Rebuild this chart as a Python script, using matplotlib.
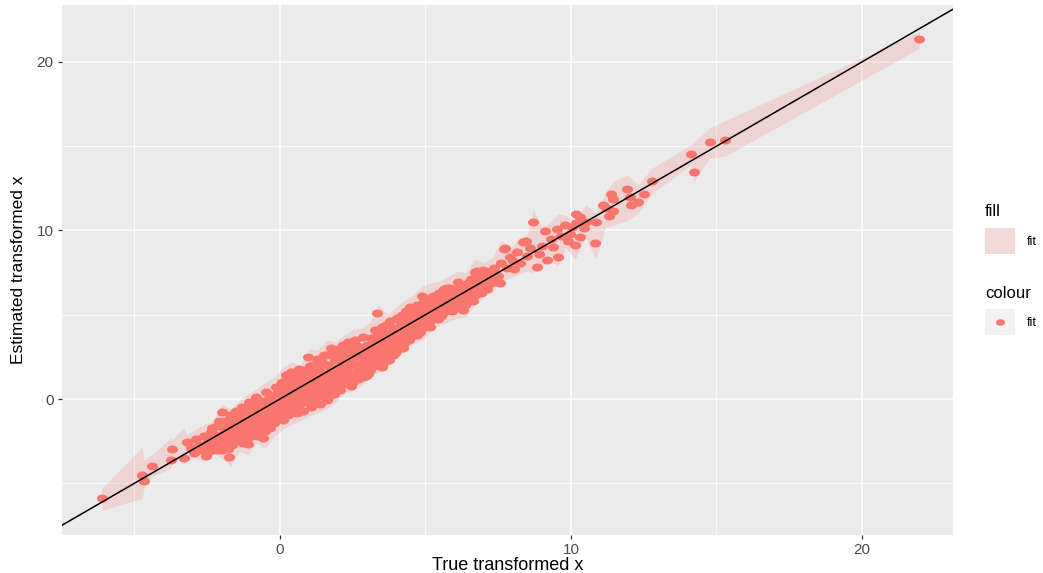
import numpy as np
import matplotlib.pyplot as plt
from matplotlib.path import Path
from matplotlib.transforms import Affine2D
from matplotlib.patches import Rectangle
from matplotlib.lines import Line2D

plt.rcParams['font.family'] = ['Liberation Sans', 'DejaVu Sans']

# point estimates (true vs estimated)
true_x = [
    -6.12, -4.74, -4.67, -4.40, -3.75, -3.71, -3.30, -3.20, -3.05, -2.95,
    -2.90, -2.80, -2.70, -2.62, -2.54, -2.50, -2.45, -2.38, -2.30, -2.25,
    -2.18, -2.12, -2.05, -2.00, -1.98,
    -1.92, -1.90, -1.85, -1.80, -1.75, -1.72, -1.70, -1.65, -1.60, -1.55,
    -1.50, -1.48, -1.42, -1.40, -1.35, -1.30, -1.28, -1.22, -1.20, -1.15,
    -1.10, -1.08, -1.05, -1.00, -0.98, -0.95, -0.90, -0.85, -0.82, -0.80,
    -0.75, -0.72, -0.69, -0.65, -0.62, -0.58, -0.55, -0.52, -0.48, -0.45,
    -0.40, -0.38, -0.35, -0.30, -0.28, -0.22, -0.20, -0.15, -0.12, -0.08,
    -0.05, 0.00, 0.02, 0.05, 0.08, 0.10,
    0.12, 0.15, 0.18, 0.22, 0.25, 0.28, 0.32, 0.35, 0.38, 0.42,
    0.45, 0.48, 0.52, 0.55, 0.58, 0.62, 0.65, 0.68, 0.72, 0.75,
    0.78, 0.82, 0.85, 0.88, 0.92, 0.95, 0.97, 1.00, 1.02, 1.05,
    1.08, 1.12, 1.15, 1.18, 1.22, 1.25, 1.28, 1.32, 1.35, 1.38,
    1.42, 1.45, 1.48, 1.52, 1.55, 1.60, 1.62, 1.65, 1.68, 1.72,
    1.75, 1.78, 1.82, 1.85, 1.88, 1.92, 1.95, 1.98,
    2.02, 2.05, 2.08, 2.12, 2.15, 2.18, 2.22, 2.25, 2.28, 2.32,
    2.35, 2.38, 2.42, 2.45, 2.48, 2.52, 2.55, 2.58, 2.62, 2.65,
    2.68, 2.72, 2.75, 2.78, 2.82, 2.85, 2.88, 2.92, 2.95, 2.98,
    3.02, 3.05, 3.08, 3.12, 3.15, 3.18, 3.22, 3.25, 3.28, 3.32,
    3.35, 3.38, 3.42, 3.45, 3.48, 3.52, 3.55, 3.58, 3.62, 3.65,
    3.68, 3.72, 3.75, 3.78, 3.82, 3.85, 3.88, 3.92, 3.95, 3.98,
    4.02, 4.05, 4.08, 4.12, 4.15, 4.18, 4.22, 4.25, 4.28, 4.32,
    4.35, 4.38, 4.42, 4.45, 4.48, 4.52, 4.55, 4.58, 4.62, 4.65,
    4.70, 4.75, 4.80, 4.85, 4.89, 4.92, 4.95, 5.00, 5.05, 5.10,
    5.15, 5.20, 5.25, 5.30, 5.35, 5.40, 5.45, 5.50, 5.55, 5.60,
    5.65, 5.70, 5.75, 5.80, 5.85, 5.90, 5.95,
    6.00, 6.05, 6.10, 6.13, 6.18, 6.22, 6.30, 6.35, 6.40, 6.45,
    6.50, 6.55, 6.60, 6.65, 6.70, 6.76, 6.80, 6.85, 6.90, 6.99,
    7.05, 7.10, 7.18, 7.25, 7.30, 7.40, 7.50, 7.55,
    7.60, 7.70, 7.73, 7.80, 7.90, 8.00, 8.05, 8.15, 8.25, 8.36,
    8.45, 8.50, 8.60, 8.71, 8.82, 8.90, 9.00, 9.10, 9.19, 9.30,
    9.40, 9.51, 9.54, 9.65, 9.80, 9.90, 9.97,
    10.05, 10.15, 10.17, 10.19, 10.30, 10.32, 10.46, 10.53, 10.84, 10.87,
    11.10, 11.19, 11.30, 11.39, 11.43, 11.43, 11.94, 12.04, 12.06, 12.32,
    12.51, 12.79,
    14.13, 14.22, 14.77, 15.28, 21.97,
]
est_x = [
    -5.88, -4.50, -4.87, -4.00, -3.60, -2.97, -3.50, -2.55, -2.90, -3.20,
    -2.40, -2.75, -3.05, -2.20, -3.38, -2.60, -2.95, -1.95, -2.35, -2.80,
    -1.60, -2.15, -2.55, -0.80, -3.00,
    -1.30, -2.00, -2.40, -1.65, -3.44, -0.95, -2.15, -2.75, -1.40, -1.85,
    -0.70, -2.40, -1.15, -1.60, -2.05, -0.45, -2.60, -0.95, -1.35, -1.80,
    -2.67, -0.20, -2.25, -0.70, -1.10, -1.55, -2.00, -0.35, 0.10, -0.90,
    -1.30, -1.75, -1.96, -0.10, -0.60, -2.30, -1.10, -1.50, 0.40, -0.30,
    -0.80, -1.25, -1.75, 0.15, -0.50, -1.00, -1.45, 0.70, -0.15, -0.65,
    -1.20, 0.35, -0.30, -0.85, 1.00, 0.05,
    -1.25, 0.60, -0.50, 1.40, 0.20, -0.95, 0.85, -0.20, 1.60, 0.45,
    -0.70, 1.10, 0.00, -0.45, 0.75, 1.45, 0.25, -0.30, 1.05, 0.50,
    -0.70, 1.75, 0.80, 0.10, 1.30, -0.20, 2.52, 0.55, 1.00, -0.50,
    1.55, 0.30, 2.00, 0.85, 0.05, 1.30, 2.40, 0.60, 1.75, -0.30,
    1.05, 2.20, 0.35, 1.50, 0.85, -0.06, 2.60, 1.20, 0.55, 1.90,
    3.00, 0.95, 1.55, 0.30, 2.30, 1.25, 0.70, 2.75,
    1.80, 0.55, 2.45, 1.40, 3.20, 0.90, 2.00, 1.15, 2.70, 1.65,
    3.40, 0.95, 2.25, 1.45, 2.90, 1.00, 2.00, 3.50, 1.60, 2.55,
    1.20, 3.10, 2.10, 1.55, 2.80, 3.65, 1.85, 2.40, 1.35, 3.20,
    2.05, 2.70, 1.70, 3.60, 2.35, 3.00, 1.95, 4.10, 2.60, 5.08,
    3.30, 2.15, 3.85, 2.80, 2.30, 4.25, 2.12, 3.45, 2.70, 4.40,
    3.10, 2.45, 3.80, 4.60, 2.90, 3.40, 2.60, 4.20, 3.05, 3.70,
    4.80, 2.95, 3.55, 4.35, 3.20, 5.00, 3.85, 4.55, 3.35, 5.20,
    4.05, 3.60, 4.80, 3.90, 5.45, 4.30, 3.75, 5.00, 4.55, 4.10,
    5.60, 4.40, 4.00, 5.20, 6.14, 4.70, 5.50, 4.25, 5.05, 5.80,
    4.60, 5.35, 6.10, 4.90, 5.60, 5.10, 6.30, 5.40, 4.95, 5.85,
    6.50, 5.30, 6.00, 5.55, 6.60, 5.20, 6.20,
    5.75, 6.55, 5.45, 6.97, 6.10, 5.65, 5.28, 6.40, 6.85, 5.90,
    6.60, 7.10, 6.20, 5.80, 7.56, 7.60, 6.50, 6.95, 6.30, 7.66,
    7.00, 6.55, 7.35, 6.90, 7.20, 7.50, 7.27, 6.90,
    8.09, 8.90, 8.94, 7.80, 8.40, 8.20, 7.70, 8.70, 8.05, 9.33,
    9.40, 8.50, 8.95, 10.49, 7.82, 8.60, 9.10, 9.94, 8.25, 9.50,
    9.00, 10.09, 8.45, 9.70, 10.30, 9.40, 9.80,
    10.20, 9.14, 10.44, 11.00, 10.80, 9.60, 10.16, 10.50, 9.24, 10.50,
    11.50, 11.32, 10.86, 12.15, 11.89, 11.17, 12.45, 12.00, 11.50, 11.70,
    12.19, 12.91,
    14.53, 13.48, 15.27, 15.37, 21.36,
]

# further points packed inside the dense cloud
true_x_dense = [
    -2.40, -2.35, -2.22, -2.15, -2.08, -1.95, -1.88, -1.78, -1.68, -1.62,
    -1.52, -1.45, -1.38, -1.32, -1.25, -1.18, -1.12, -1.02, -0.96, -0.88,
    -0.78, -0.70, -0.60, -0.56, -0.50, -0.42, -0.36, -0.26, -0.18, -0.10,
    -0.02, 0.04, 0.14, 0.20, 0.26, 0.34, 0.40, 0.46, 0.54, 0.60,
    0.66, 0.74, 0.80, 0.86, 0.94, 1.04, 1.10, 1.16, 1.24, 1.30,
    1.36, 1.44, 1.50, 1.58, 1.64, 1.70, 1.76, 1.84, 1.90, 1.96,
    2.04, 2.10, 2.16, 2.24, 2.30, 2.36, 2.44, 2.50, 2.56, 2.64,
    2.70, 2.76, 2.84, 2.90, 2.96, 3.04, 3.10, 3.16, 3.24, 3.30,
    3.36, 3.44, 3.50, 3.56, 3.64, 3.70, 3.76, 3.84, 3.90, 3.96,
    4.04, 4.10, 4.16, 4.24, 4.30, 4.36, 4.44, 4.50, 4.56, 4.64,
    4.72, 4.78, 4.86, 4.94, 5.02, 5.08, 5.14, 5.22, 5.28, 5.36,
    5.42, 5.48, 5.56, 5.62, 5.68, 5.74, 5.82, 5.88, 5.96, 6.04,
    6.12, 6.20, 6.28, 6.36, 6.44, 6.52, 6.60, 6.68, 6.74, 6.84,
    6.94, 7.02, 7.14, 7.22, 7.36, 7.46,
]
est_x_dense = [
    -3.10, -1.70, -2.45, -3.05, -1.30, -2.65, -1.85, -2.95, -1.05, -2.05,
    -2.50, -1.35, -0.75, -2.25, -1.70, -2.35, -1.10, -1.95, -0.45, -1.35,
    -2.20, -0.55, -1.45, -0.20, -1.90, -1.05, 0.05, -1.30, -0.45, 0.35,
    -0.95, 0.90, -0.10, 0.95, -0.65, 0.35, 1.20, -0.25, 0.65, -0.85,
    1.80, -0.10, 0.45, 1.35, 0.30, 1.95, -0.15, 1.10, 0.55, 1.85,
    0.20, 1.55, 2.60, 0.55, 2.00, 0.20, 1.35, 2.65, 0.95, 1.85,
    2.95, 1.05, 2.35, 1.60, 3.00, 2.05, 0.75, 2.45, 1.35, 3.15,
    1.85, 2.55, 1.30, 3.00, 2.25, 1.50, 3.20, 2.00, 2.65, 3.70,
    2.45, 3.15, 1.90, 3.90, 2.95, 3.50, 2.30, 4.00, 3.30, 2.75,
    4.10, 3.40, 4.65, 3.05, 4.20, 4.85, 3.50, 4.70, 4.05, 5.30,
    3.80, 4.90, 4.35, 5.80, 4.70, 5.45, 4.30, 5.75, 5.10, 6.05,
    4.75, 5.65, 6.25, 5.10, 5.95, 6.60, 5.75, 6.30, 5.45, 6.25,
    5.80, 6.70, 6.00, 5.55, 6.35, 7.00, 6.60, 6.10, 7.10, 6.70,
    7.30, 6.70, 7.55, 7.10, 7.80, 7.00,
]

# interval band (lower / upper) along true x
band_x = [
    -6.12, -4.74, -4.67, -4.40, -3.75, -3.71, -3.30, -3.20,
    -2.90, -2.60, -2.30, -2.00, -1.70, -1.40, -1.10, -0.80, -0.50, -0.20,
    0.10, 0.40, 0.70, 1.00, 1.30, 1.60, 1.90, 2.20, 2.50, 2.80,
    3.10, 3.40, 3.70, 4.00, 4.30, 4.60, 4.90, 5.20, 5.50, 5.80,
    6.10, 6.40, 6.70, 7.00, 7.30, 7.60, 7.90, 8.20, 8.50, 8.70,
    9.00, 9.30, 9.55, 9.80, 10.15, 10.50, 10.85, 11.20, 11.45, 11.94,
    12.30, 12.79, 14.13, 14.22, 14.77, 15.28, 21.97,
]
band_lo = [
    -6.60, -5.90, -5.30, -4.60, -4.10, -3.40, -3.90, -3.00,
    -3.50, -3.70, -3.20, -3.50, -4.00, -3.10, -3.30, -2.60, -2.90, -2.20,
    -1.80, -1.50, -1.30, -1.00, -0.80, -0.60, -0.20, 0.30, 0.50, 0.80,
    1.30, 1.60, 1.90, 2.40, 2.90, 3.30, 3.50, 4.10, 4.40, 4.60,
    4.80, 4.90, 5.60, 6.10, 6.30, 7.00, 7.20, 7.40, 7.60, 7.50,
    7.90, 8.20, 7.90, 9.00, 8.30, 9.60, 8.30, 10.20, 10.30, 10.60,
    11.00, 12.20, 13.90, 12.90, 14.30, 14.40, 20.80,
]
band_hi = [
    -5.30, -2.85, -3.60, -3.30, -2.30, -2.40, -1.70, -2.10,
    -1.80, -1.50, -1.30, -0.30, -0.60, -0.10, 0.30, 0.60, 1.00, 1.30,
    1.90, 2.20, 2.00, 3.00, 2.90, 3.50, 3.40, 3.80, 4.10, 4.20,
    4.60, 5.60, 5.00, 5.50, 5.90, 6.20, 6.70, 6.90, 7.00, 7.30,
    7.60, 7.50, 8.30, 8.10, 8.40, 9.40, 8.90, 9.50, 9.80, 11.30,
    10.20, 10.50, 11.00, 10.90, 10.60, 11.50, 11.10, 12.30, 12.90, 13.30,
    12.70, 13.70, 15.10, 15.20, 16.10, 16.50, 21.80,
]

red = '#F8766D'
ellipse = Path.unit_circle().transformed(Affine2D().scale(1.0, 0.72))
ms = 8.0

fig = plt.figure(figsize=(10.43, 5.73), dpi=100)
ax = fig.add_axes([62 / 1043, 38 / 573, 891 / 1043, 530 / 573])
ax.set_facecolor('#EBEBEB')

ax.fill_between(band_x, band_lo, band_hi, color=red, alpha=0.2,
                linewidth=0, zorder=2)
ax.plot(true_x + true_x_dense, est_x + est_x_dense, ls='none',
        marker=ellipse, ms=ms, mfc=red, mec='none', zorder=3)
ax.axline((0, 0), slope=1, color='black', lw=1.1, zorder=4)

ax.set_xlim(-7.49, 23.13)
ax.set_ylim(-8.07, 23.38)
ax.set_xticks([0, 10, 20])
ax.set_yticks([0, 10, 20])
ax.set_xticks([-5, 5, 15], minor=True)
ax.set_yticks([-5, 5, 15], minor=True)
ax.grid(which='major', color='white', lw=1.1, zorder=1)
ax.grid(which='minor', color='white', lw=0.55, zorder=1)
ax.set_axisbelow(True)
for s in ax.spines.values():
    s.set_visible(False)
ax.tick_params(which='major', length=3, width=0.9, color='#333333',
               labelcolor='#4D4D4D', labelsize=11, pad=3)
ax.tick_params(which='minor', length=0)

ax.set_xlabel('True transformed x', fontsize=13, va='center')
ax.xaxis.set_label_coords(0.5, -0.058)
ax.set_ylabel('Estimated transformed x', fontsize=12.5, va='center')
ax.yaxis.set_label_coords(-0.049, 0.5)

# legends (fill, colour) drawn by hand at the right
W, H = 1043, 573


def fx(px):
    return px / W


def fy(py):
    return 1 - py / H


fig.text(fx(985), fy(212), 'fill', fontsize=12, va='center', ha='left')
fig.add_artist(Rectangle((fx(985), fy(254)), 30 / W, 26 / H,
                         transform=fig.transFigure, facecolor='#F2F2F2',
                         edgecolor='none'))
fig.add_artist(Rectangle((fx(985), fy(254)), 30 / W, 26 / H,
                         transform=fig.transFigure, facecolor=red,
                         alpha=0.2, edgecolor='none'))
fig.text(fx(1027), fy(242), 'fit', fontsize=9, va='center', ha='left')

fig.text(fx(985), fy(294), 'colour', fontsize=12, va='center', ha='left')
fig.add_artist(Rectangle((fx(985), fy(335)), 30 / W, 26 / H,
                         transform=fig.transFigure, facecolor='#F2F2F2',
                         edgecolor='none'))
fig.add_artist(Line2D([fx(1000)], [fy(322)], transform=fig.transFigure,
                      ls='none', marker=ellipse, ms=6.5, mfc=red,
                      mec='none'))
fig.text(fx(1027), fy(323), 'fit', fontsize=9, va='center', ha='left')

fig.savefig('out.png', dpi=100)
